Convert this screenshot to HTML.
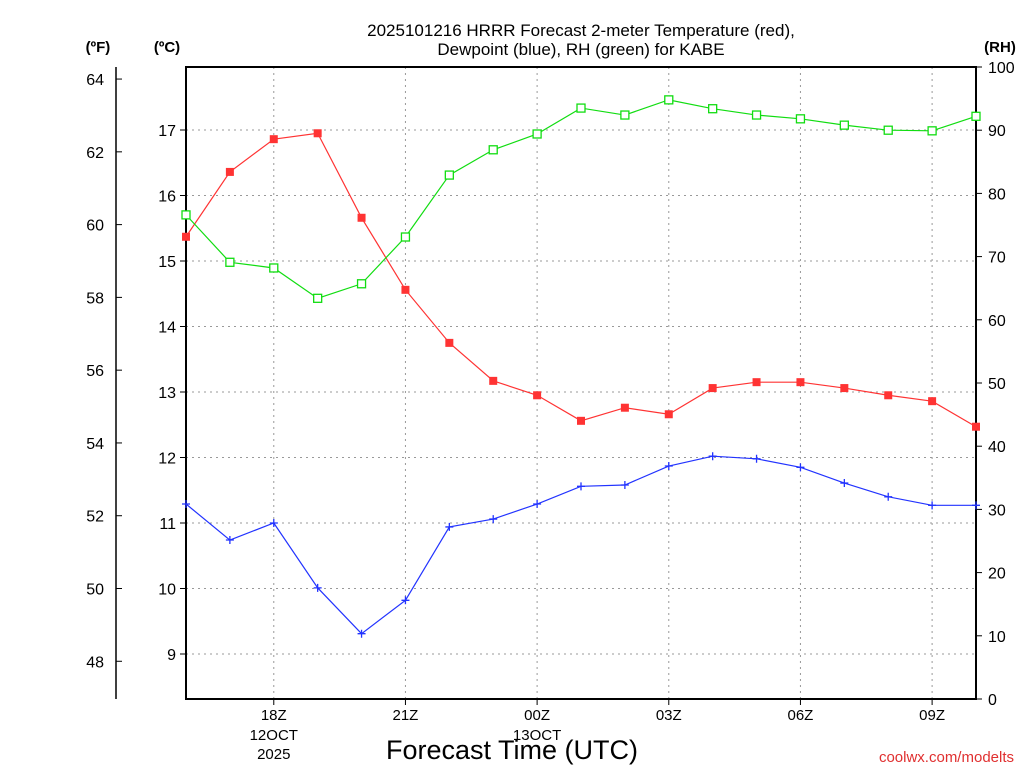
<!DOCTYPE html>
<html><head><meta charset="utf-8"><style>
body{margin:0;background:#fff;}
svg text{font-family:"Liberation Sans",sans-serif;fill:#000;}
</style></head><body>
<svg id="chart" width="1024" height="768" viewBox="0 0 1024 768" xmlns="http://www.w3.org/2000/svg">
<g id="grid"></g>
<g id="axes"></g>
<g id="series"></g>
<text x="581" y="36" font-size="17" text-anchor="middle">2025101216 HRRR Forecast 2-meter Temperature (red),</text>
<text x="581" y="55" font-size="17" text-anchor="middle">Dewpoint (blue), RH (green) for KABE</text>
<text x="98" y="52" font-size="15" font-weight="bold" text-anchor="middle">(ºF)</text>
<text x="167" y="52" font-size="15" font-weight="bold" text-anchor="middle">(ºC)</text>
<text x="1000" y="52" font-size="15" font-weight="bold" text-anchor="middle">(RH)</text>
<text x="512" y="759" font-size="27" text-anchor="middle">Forecast Time (UTC)</text>
<text x="1014" y="762" font-size="15" text-anchor="end" style="fill:#e03030">coolwx.com/modelts</text>
</svg>
<script>
const hours=['16Z','17Z','18Z','19Z','20Z','21Z','22Z','23Z','00Z','01Z','02Z','03Z','04Z','05Z','06Z','07Z','08Z','09Z','10Z'];
const tempC=[15.37,16.36,16.86,16.95,15.66,14.56,13.75,13.17,12.95,12.56,12.76,12.66,13.06,13.15,13.15,13.06,12.95,12.86,12.47];
const dewC=[11.29,10.74,11.0,10.01,9.31,9.82,10.94,11.06,11.29,11.56,11.58,11.87,12.02,11.98,11.85,11.61,11.40,11.27,11.27];
const rh=[76.6,69.1,68.2,63.4,65.7,73.1,82.9,86.9,89.4,93.5,92.4,94.8,93.4,92.4,91.8,90.8,90.0,89.9,92.2];
const cTicks=[9,10,11,12,13,14,15,16,17];
const fTicks=[48,50,52,54,56,58,60,62,64];
const rhTicks=[0,10,20,30,40,50,60,70,80,90,100];
const xLabelIdx=[2,5,8,11,14,17];
const xSub={2:['12OCT','2025'],8:['13OCT']};
const X0=186,X1=976,Y0=67,Y1=699;
const NS='http://www.w3.org/2000/svg';
const xs=i=>X0+(X1-X0)*i/(hours.length-1);
const yC=c=>130+(17-c)*65.5;
const yF=f=>yC((f-32)/1.8);
const yR=r=>Y1-(Y1-Y0)*r/100;
function mk(t,a,p){const e=document.createElementNS(NS,t);for(const k in a)e.setAttribute(k,a[k]);p.appendChild(e);return e;}
const grid=document.getElementById('grid'),axes=document.getElementById('axes'),ser=document.getElementById('series');
xLabelIdx.forEach(i=>{const l=mk('line',{x1:xs(i),x2:xs(i),y1:Y0,y2:Y1,stroke:'#999','stroke-dasharray':'2,4'},grid);


mk('line',{x1:xs(i),x2:xs(i),y1:Y1,y2:Y1+6,stroke:'#000'},axes);
const t=mk('text',{x:xs(i),y:720,'font-size':15,'text-anchor':'middle'},axes);t.textContent=hours[i];


(xSub[i]||[]).forEach((s,k)=>{const u=mk('text',{x:xs(i),y:740+k*19,'font-size':15,'text-anchor':'middle'},axes);u.textContent=s;});});
cTicks.forEach(c=>{const l=mk('line',{x1:X0,x2:X1,y1:yC(c),y2:yC(c),stroke:'#999','stroke-dasharray':'2,4'},grid);


mk('line',{x1:X0-6,x2:X0,y1:yC(c),y2:yC(c),stroke:'#000'},axes);
const t=mk('text',{x:176,y:yC(c)+6,'font-size':16,'text-anchor':'end'},axes);t.textContent=c;

});
fTicks.forEach(f=>{mk('line',{x1:116,x2:122,y1:yF(f),y2:yF(f),stroke:'#000'},axes);
const t=mk('text',{x:104,y:yF(f)+6,'font-size':16,'text-anchor':'end'},axes);t.textContent=f;

});
rhTicks.forEach(r=>{mk('line',{x1:X1,x2:X1+6,y1:yR(r),y2:yR(r),stroke:'#000'},axes);
const t=mk('text',{x:988,y:yR(r)+6,'font-size':16},axes);t.textContent=r;

});
mk('line',{x1:116,x2:116,y1:Y0,y2:Y1,stroke:'#000','stroke-width':1.5},axes);
mk('rect',{x:X0,y:Y0,width:X1-X0,height:Y1-Y0,fill:'none',stroke:'#000','stroke-width':2},axes);
function line(vals,fy,col,name){const p=mk('polyline',{points:vals.map((v,i)=>xs(i)+','+fy(v)).join(' '),fill:'none',stroke:col,'stroke-width':1.2},ser);

}
line(tempC,yC,'#f33','temperature');line(dewC,yC,'#23f','dewpoint');line(rh,yR,'#1d1','rh');
tempC.forEach((v,i)=>{const m=mk('rect',{x:xs(i)-4,y:yC(v)-4,width:8,height:8,fill:'#f33'},ser);

});
dewC.forEach((v,i)=>{const g=mk('path',{d:`M${xs(i)-4},${yC(v)}h8M${xs(i)},${yC(v)-4}v8`,stroke:'#23f','stroke-width':1.3},ser);

});
rh.forEach((v,i)=>{const m=mk('rect',{x:xs(i)-4,y:yR(v)-4,width:8,height:8,fill:'#fff',stroke:'#1d1','stroke-width':1.3},ser);

});
</script>
</body></html>
